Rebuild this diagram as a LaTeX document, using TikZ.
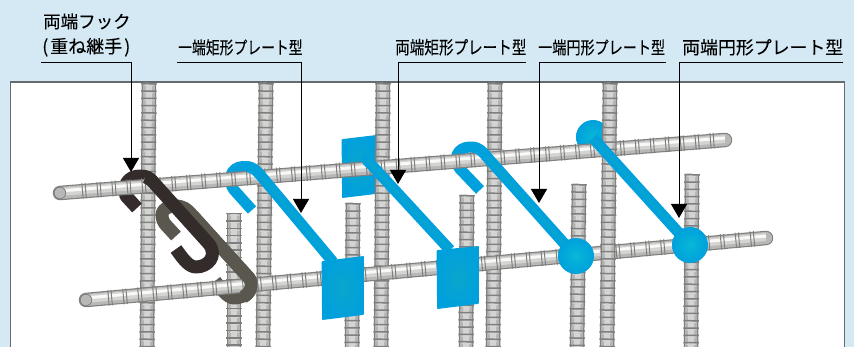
\documentclass[tikz,border=0pt]{standalone}
\usepackage{graphicx}
\usepackage{fontspec}
\setmainfont{Noto Sans CJK JP}[FakeBold=0.12]
\usetikzlibrary{arrows.meta}
\definecolor{bgblue}{HTML}{D4E9F4}
\definecolor{frameg}{HTML}{666A6C}
\definecolor{barline}{HTML}{7F7F7F}
\definecolor{barbody}{HTML}{D4D4D2}
\definecolor{barvert}{HTML}{B4B4B2}
\definecolor{barshade}{HTML}{B8B8B6}
\definecolor{bluemain}{HTML}{00A0DC}
\definecolor{bluecore}{HTML}{0AA6CC}
\definecolor{darkhook}{HTML}{332C2A}
\definecolor{olivehook}{HTML}{5A574F}
\tikzset{
  x=1pt,y=-1pt,
  leader/.style={draw=black,line width=1,-{Triangle[length=14,width=16]}},
  lab/.style={inner sep=0,anchor=base west,text=black},
  hookblue/.style={draw=bluemain,line width=11,line join=round},
  hookcore/.style={draw=bluecore!60!bluemain,line width=4,line join=round},
  hookdark/.style={draw=darkhook,line width=13,line join=round},
  hookolive/.style={draw=olivehook,line width=13,line join=round},
  plate/.style={draw=bluemain,line width=1.8,line join=round,inner color=bluecore,outer color=bluemain},
  disc/.style={draw=none,inner color=bluecore!80!cyan,outer color=bluemain}
}
\newcommand\rebarV[4]{%
  \draw[barline,line width=14.5] (#1,#2) -- (#3,#4);
  \draw[barvert,line width=12] (#1,#2) -- (#3,#4);
  \draw[barbody,line width=6] (#1,#2) -- (#3,#4);
  \draw[barline,line width=15.5,dash pattern=on 1.5 off 5.8] (#1,#2) -- (#3,#4);
  \draw[barbody,line width=9,dash pattern=on 1 off 6.3,dash phase=-2] (#1,#2) -- (#3,#4);
}
\newcommand\rebarH[4]{%
  \draw[barline,line width=14.5,line cap=round] (#1,#2) -- (#3,#4);
  \draw[barshade,line width=12.2,line cap=round] (#1,#2) -- (#3,#4);
  \draw[barbody,line width=8] (#1,#2-1) -- (#3,#4-1);
  \draw[white!85!barbody,line width=3] (#1,#2-2) -- (#3,#4-2);
  \draw[barline,line width=15.5,dash pattern=on 1 off 2.2 on 1 off 10.8] (#1+22,#2-2) -- (#3-3,#4);
  \fill[barshade,draw=barline,line width=.8] (#1,#2) circle (5.8);
}
\begin{document}
\begin{tikzpicture}
\useasboundingbox (0,0) rectangle (854,347);
\fill[bgblue] (0,0) rectangle (854,347);
\draw[frameg,fill=white,line width=1.2] (10.5,82) -- (844.5,82) -- (844.5,348) -- (10.5,348) -- cycle;
% plates and disc that lie behind the bars
\shade[plate] (342.5,140) -- (376,136) -- (376,193) -- (343,197) -- cycle;
\shade[disc] (593,137) circle (17);
% reinforcing bars, vertical
\rebarV{149}{83}{147}{347}
\rebarV{266}{83}{263}{347}
\rebarV{383}{83}{381}{347}
\rebarV{234}{213}{234}{347}
\rebarV{353}{203}{352}{347}
\rebarV{467}{195}{466}{347}
\rebarV{495}{83}{493}{347}
\rebarV{579}{184}{577}{347}
\rebarV{692}{174}{691}{347}
% hooks, rear parts
\draw[hookolive] (176,236) -- (165,224) .. controls (157,212) and (166,206) .. (175,206) .. controls (183,206) and (187,209) .. (192,215) -- (249,278) .. controls (256,288) and (246,298) .. (234,298) .. controls (228,298) and (222,290) .. (215,281);
\draw[hookdark] (137,208) -- (126,196) .. controls (122,186) and (128,176) .. (140,176) .. controls (147,176) and (150,178) .. (154,183);
\draw[hookblue] (252,210) -- (234,190) .. controls (227,181) and (230,167) .. (243,166.5) .. controls (251,166) and (256,170) .. (262,177);
\draw[hookblue] (480,190) -- (460,169) .. controls (452,160) and (457,147) .. (470,147) .. controls (478,147) and (482,151) .. (487,157);
% reinforcing bars, horizontal
\rebarH{60}{193}{725}{140}
\rebarH{86}{300}{766}{238}
\rebarV{610}{83}{607}{347}
% hooks, front parts
\draw[hookolive] (192,215) -- (249,278) .. controls (254,285) and (250,294) .. (243,297);
\draw[hookdark] (146,177) .. controls (149,178) and (151,180) .. (154,183) -- (209,244) .. controls (218,256) and (208,267) .. (196,267) .. controls (189,267) and (183,259) .. (176,249);
\draw[hookblue] (247,166.5) .. controls (253,167) and (257,171) .. (262,177) -- (333,262);
\draw[hookblue] (367,160) -- (450,250);
\draw[hookblue,line cap=round] (367,160) -- (370,163);
\draw[hookblue] (473,147) .. controls (479,148) and (482,151) .. (487,157) -- (570,250);
\draw[hookblue] (593,138) -- (688,243);
\draw[hookcore] (367,160) -- (450,250);
\draw[hookcore] (593,138) -- (688,243);
\draw[hookcore] (487,157) -- (570,250);
\draw[hookcore] (262,177) -- (333,262);
% plates and discs in front
\shade[plate] (322.5,262) -- (363,257) -- (363,314) -- (323,319) -- cycle;
\shade[plate] (437.5,251) -- (478,247) -- (478,303) -- (438,308) -- cycle;
\shade[disc] (576,256) circle (18);
\shade[disc] (690,245) circle (18);
% labels
\node[lab] (l1a) at (43,28) {\fontsize{17.5}{18}\selectfont 両端フック};
\node[lab] (l1b) at (42,53) {\fontsize{18}{18}\selectfont (\kern2pt 重ね継手\kern2pt)};
\node[lab] (l2) at (178,54) {\scalebox{.79}[1]{\fontsize{17.5}{18}\selectfont 一端矩形プレート型}};
\node[lab] (l3) at (395,54) {\scalebox{.81}[1]{\fontsize{18}{18}\selectfont 両端矩形プレート型}};
\node[lab] (l4) at (538,54) {\scalebox{.806}[1]{\fontsize{17.5}{18}\selectfont 一端円形プレート型}};
\node[lab] (l5) at (682,54) {\fontsize{17.9}{18}\selectfont 両端円形プレート型};
% leaders
\coordinate (s1) at (41,62.5);   \coordinate (t1) at (131,172);
\coordinate (s2) at (177,63);    \coordinate (t2) at (301,213);
\coordinate (s3) at (526,63);    \coordinate (t3) at (398,184);
\coordinate (s4) at (666,63);    \coordinate (t4) at (539,203);
\coordinate (s5) at (843,63);    \coordinate (t5) at (679,218);
\draw[leader] (s1) -| (t1);
\draw[leader] (s2) -| (t2);
\draw[leader] (s3) -| (t3);
\draw[leader] (s4) -| (t4);
\draw[leader] (s5) -| (t5);
\end{tikzpicture}
\end{document}
